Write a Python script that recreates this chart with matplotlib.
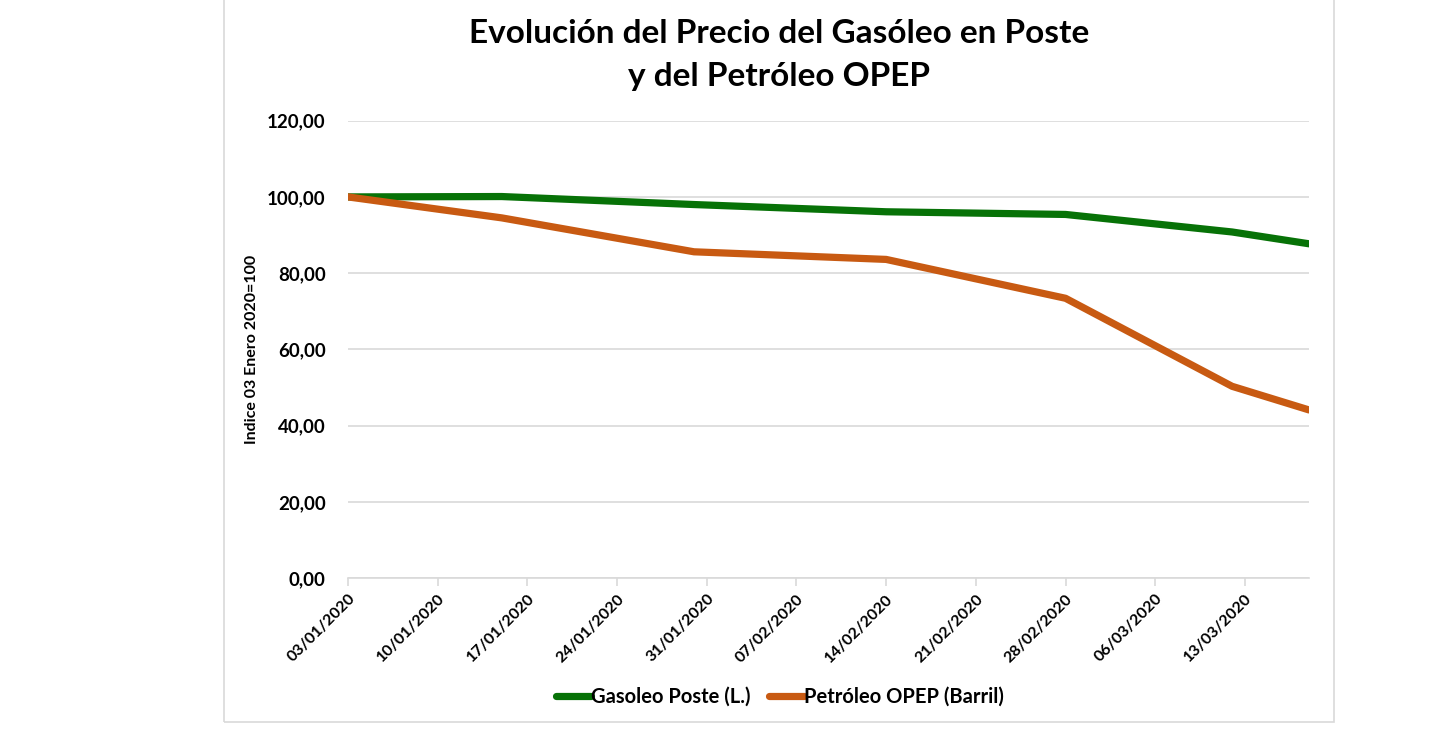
import datetime as dt
import matplotlib
matplotlib.use('Agg')
import matplotlib.pyplot as plt
import matplotlib.dates as mdates
from matplotlib.ticker import FuncFormatter
from matplotlib.patches import Rectangle

plt.rcParams['font.family'] = ['Lato', 'DejaVu Sans']
plt.rcParams['font.weight'] = 'bold'

# fechas de los datos (dd/mm/aaaa)
fechas = ['03/01/2020', '15/01/2020', '30/01/2020', '14/02/2020',
          '28/02/2020', '12/03/2020', '18/03/2020']
gasoleo = [100.0, 100.1, 98.0, 96.1, 95.4, 90.8, 87.7]
opep = [100.0, 94.5, 85.6, 83.6, 73.4, 50.3, 44.1]
serie_gasoleo = 'Gasoleo Poste (L.)'
serie_opep = 'Petróleo OPEP (Barril)'
titulo = 'Evolución del Precio del Gasóleo en Poste\ny del Petróleo OPEP'
eje_y = 'Indice 03 Enero 2020=100'

x = [dt.datetime.strptime(f, '%d/%m/%Y') for f in fechas]

fig = plt.figure(figsize=(14.4, 7.5), dpi=100)
fig.patches.append(Rectangle((224/1440, 1-722/750), 1110/1440, 722/750 + 0.01,
                             transform=fig.transFigure, fill=False,
                             edgecolor='#d9d9d9', linewidth=1.2))

ax = fig.add_axes([348/1440, 1-578/750, (1309-348)/1440, (578-120.7)/750])
ax.plot(x, gasoleo, color='#077207', lw=5.2, solid_capstyle='round',
        solid_joinstyle='round', label=serie_gasoleo, zorder=3)
ax.plot(x, opep, color='#c85a12', lw=5.2, solid_capstyle='round',
        solid_joinstyle='round', label=serie_opep, zorder=3)

ax.set_ylim(0, 120)
ax.set_yticks(range(0, 121, 20))
ax.yaxis.set_major_formatter(FuncFormatter(lambda v, p: ('%.2f' % v).replace('.', ',')))
ax.set_xlim(x[0], x[-1])
ticks = [x[0] + dt.timedelta(days=7*i) for i in range(11)]
ax.set_xticks(ticks)
ax.xaxis.set_major_formatter(mdates.DateFormatter('%d/%m/%Y'))

ax.grid(axis='y', color='#d9d9d9', lw=1.2)
for s in ['top', 'right', 'left']:
    ax.spines[s].set_visible(False)
ax.spines['bottom'].set_color('#d9d9d9')
ax.spines['bottom'].set_linewidth(1.2)
ax.tick_params(axis='y', length=0, pad=16, labelsize=13.5)
ax.tick_params(axis='x', length=6, width=1.2, color='#d9d9d9', pad=4, labelsize=11.5)
for lab in ax.get_xticklabels():
    lab.set_rotation(45)
    lab.set_ha('right')
    lab.set_rotation_mode('anchor')
ax.set_ylabel(eje_y, fontsize=11.5, fontweight='bold', labelpad=6)

fig.text(779/1440, 1-55/750, titulo, ha='center', va='center',
         fontsize=24, linespacing=1.6)

ax.legend(loc='center', bbox_to_anchor=(780/1440, 1-697/750),
          bbox_transform=fig.transFigure, ncol=2, frameon=False,
          fontsize=14.5, handlelength=1.75, handletextpad=0.0, columnspacing=0.9)

fig.savefig('out.png', dpi=100, facecolor='white')
